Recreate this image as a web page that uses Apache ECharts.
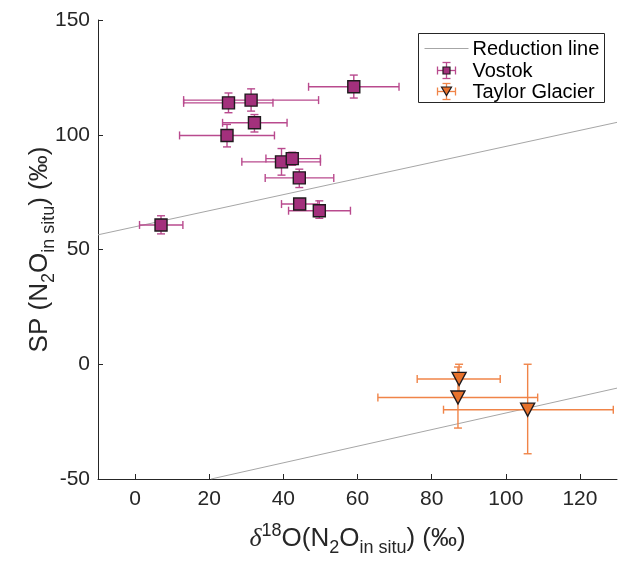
<!DOCTYPE html>
<html><head><meta charset="utf-8">
<script src="https://cdn.jsdelivr.net/npm/echarts@6/dist/echarts.min.js"></script>
<style>html,body{margin:0;padding:0;background:#fff}#c{width:619px;height:562px}</style>
</head><body><div id="c"></div>
<script>
// Vostok samples
const vostokX     = [59.0, 25.2, 31.3, 32.2, 24.8, 39.5, 42.4, 44.3, 44.4, 49.7, 7.0];
const vostokY     = [120.9, 113.9, 115.1, 105.2, 99.7, 88.2, 89.6, 81.2, 69.8, 66.9, 60.7];
const vostokXLow  = [46.8, 13.1, 13.1, 23.6, 12.0, 28.8, 35.3, 35.1, 39.5, 41.4, 1.2];
const vostokXHigh = [71.2, 37.2, 49.5, 41.0, 37.6, 50.0, 50.0, 53.6, 49.3, 58.1, 12.9];
const vostokYLow  = [116.0, 109.6, 110.3, 101.2, 94.7, 82.4, 86.7, 77.0, 67.5, 63.6, 56.8];
const vostokYHigh = [126.0, 118.2, 120.0, 108.8, 104.5, 94.0, 92.4, 85.0, 72.0, 71.2, 64.7];
// Taylor Glacier samples
const taylorX     = [87.4, 87.1, 105.9];
const taylorY     = [-6.4, -14.5, -19.8];
const taylorXLow  = [76.1, 65.5, 83.2];
const taylorXHigh = [98.5, 108.6, 129.0];
const taylorYLow  = [-12.8, -27.8, -39.0];
const taylorYHigh = [0.0, -1.2, 0.0];
// Reduction lines (end points)
const reductionUpperX = [-10, 130];
const reductionUpperY = [56.4, 105.4];
const reductionLowerX = [20.5, 130];
const reductionLowerY = [-50, -10.4];
// Axes
const xTicks = [0, 20, 40, 60, 80, 100, 120];
const yTicks = [-50, 0, 50, 100, 150];

const VOSTOK_FILL = '#a3307c', VOSTOK_ERR = '#b94a8e';
const TAYLOR_FILL = '#e8722c', TAYLOR_ERR = '#f08448';
const FONT = '"Liberation Sans", Arial, sans-serif';
const TXT = '#262626';

function rows(x, y, xl, xh, yl, yh) { return x.map((v, i) => [v, y[i], xl[i], xh[i], yl[i], yh[i]]); }
function pairs(x, y) { return x.map((v, i) => [v, y[i]]); }

function errRender(color) {
  return function (params, api) {
    const x = api.value(0), y = api.value(1);
    const a = api.coord([api.value(2), y]), b = api.coord([api.value(3), y]);
    const c = api.coord([x, api.value(4)]), d = api.coord([x, api.value(5)]);
    const cap = 4;
    const st = { stroke: color, lineWidth: 1.4 };
    const L = (x1, y1, x2, y2) => ({ type: 'line', shape: { x1, y1, x2, y2 }, style: st });
    return { type: 'group', children: [
      L(a[0], a[1], b[0], b[1]),
      L(a[0], a[1] - cap, a[0], a[1] + cap),
      L(b[0], b[1] - cap, b[0], b[1] + cap),
      L(c[0], c[1], d[0], d[1]),
      L(c[0] - cap, c[1], c[0] + cap, c[1]),
      L(d[0] - cap, d[1], d[0] + cap, d[1])
    ]};
  };
}

const richMain = { fontSize: 26, color: TXT, fontFamily: FONT };
const richSub = { fontSize: 18, color: TXT, fontFamily: FONT, padding: [18, 0, 0, 0] };
const richSup = { fontSize: 18, color: TXT, fontFamily: FONT, padding: [0, 0, 16, 0] };

const chart = echarts.init(document.getElementById('c'), null, { renderer: 'canvas' });
const lx = 418, ly = 33;
const leg = 20;
chart.setOption({
  animation: false,
  backgroundColor: '#fff',
  textStyle: { fontFamily: FONT },
  grid: { left: 98, right: 2, top: 20, bottom: 81, containLabel: false },
  xAxis: {
    type: 'value', min: -10, max: 130,
    name: '{i|δ}{sup|18}{m|O(N}{sub|2}{m|O}{sub|in situ}{m|) (‰)}',
    nameLocation: 'middle', nameGap: 42,
    nameTextStyle: { rich: {
      m: richMain,
      i: { fontSize: 26, color: TXT, fontFamily: '"Liberation Serif", serif', fontStyle: 'italic' },
      sup: richSup, sub: richSub
    }},
    axisLine: { onZero: false, lineStyle: { color: TXT, width: 1 } },
    axisTick: { inside: true, length: 5, customValues: xTicks, lineStyle: { color: TXT } },
    axisLabel: { customValues: xTicks, fontSize: 21, color: TXT, margin: 10, fontFamily: FONT },
    splitLine: { show: false }
  },
  yAxis: {
    type: 'value', min: -50, max: 150,
    name: '{m|SP (N}{sub|2}{m|O}{sub|in situ}{m|) (‰)}',
    nameLocation: 'middle', nameGap: 40, nameRotate: 90, nameMoveOverlap: false,
    nameTextStyle: { rich: { m: richMain, sub: richSub } },
    axisLine: { onZero: false, lineStyle: { color: TXT, width: 1 } },
    axisTick: { inside: true, length: 5, customValues: yTicks, lineStyle: { color: TXT } },
    axisLabel: { customValues: yTicks, fontSize: 21, color: TXT, margin: 8, fontFamily: FONT },
    splitLine: { show: false }
  },
  series: [
    { name: 'Reduction line', type: 'line', data: pairs(reductionUpperX, reductionUpperY),
      showSymbol: false, symbol: 'none', lineStyle: { color: '#a6a6a6', width: 1 }, z: 1, silent: true },
    { name: 'Reduction line 2', type: 'line', data: pairs(reductionLowerX, reductionLowerY),
      showSymbol: false, symbol: 'none', lineStyle: { color: '#a6a6a6', width: 1 }, z: 1, silent: true },
    { name: 'Vostok err', type: 'custom', renderItem: errRender(VOSTOK_ERR),
      data: rows(vostokX, vostokY, vostokXLow, vostokXHigh, vostokYLow, vostokYHigh),
      encode: { x: [0, 2, 3], y: [1, 4, 5] }, z: 2, silent: true },
    { name: 'Taylor err', type: 'custom', renderItem: errRender(TAYLOR_ERR),
      data: rows(taylorX, taylorY, taylorXLow, taylorXHigh, taylorYLow, taylorYHigh),
      encode: { x: [0, 2, 3], y: [1, 4, 5] }, z: 2, silent: true },
    { name: 'Vostok', type: 'scatter', data: pairs(vostokX, vostokY), symbol: 'rect', symbolSize: 12,
      itemStyle: { color: VOSTOK_FILL, borderColor: '#1f1a1d', borderWidth: 1.4, opacity: 1 }, z: 3 },
    { name: 'Taylor Glacier', type: 'scatter', data: pairs(taylorX, taylorY), symbol: 'triangle',
      symbolRotate: 180, symbolSize: [14, 13],
      itemStyle: { color: TAYLOR_FILL, borderColor: '#1f1a1d', borderWidth: 1.4, opacity: 1 }, z: 3 }
  ],
  graphic: [
    { type: 'group', left: lx, top: ly, z: 100, children: [
      { type: 'rect', shape: { x: 0, y: 0, width: 186, height: 69 }, style: { fill: '#fff', stroke: TXT, lineWidth: 1 } },
      { type: 'line', shape: { x1: 6, y1: 15, x2: 50, y2: 15 }, style: { stroke: '#a6a6a6', lineWidth: 1 } },
      { type: 'text', x: 54, y: 16, style: { text: 'Reduction line', fontSize: leg, fontFamily: FONT, fill: '#000', verticalAlign: 'middle' } },
      // Vostok icon
      { type: 'line', shape: { x1: 19, y1: 37, x2: 37, y2: 37 }, style: { stroke: VOSTOK_ERR, lineWidth: 1.3 } },
      { type: 'line', shape: { x1: 19, y1: 33, x2: 19, y2: 41 }, style: { stroke: VOSTOK_ERR, lineWidth: 1.3 } },
      { type: 'line', shape: { x1: 37, y1: 33, x2: 37, y2: 41 }, style: { stroke: VOSTOK_ERR, lineWidth: 1.3 } },
      { type: 'line', shape: { x1: 28, y1: 29, x2: 28, y2: 45 }, style: { stroke: VOSTOK_ERR, lineWidth: 1.3 } },
      { type: 'line', shape: { x1: 24, y1: 29, x2: 32, y2: 29 }, style: { stroke: VOSTOK_ERR, lineWidth: 1.3 } },
      { type: 'line', shape: { x1: 24, y1: 45, x2: 32, y2: 45 }, style: { stroke: VOSTOK_ERR, lineWidth: 1.3 } },
      { type: 'rect', shape: { x: 24.5, y: 33.5, width: 7, height: 7 }, style: { fill: VOSTOK_FILL, stroke: '#1f1a1d', lineWidth: 1.2 } },
      { type: 'text', x: 54, y: 38, style: { text: 'Vostok', fontSize: leg, fontFamily: FONT, fill: '#000', verticalAlign: 'middle' } },
      // Taylor icon
      { type: 'line', shape: { x1: 19, y1: 58, x2: 37, y2: 58 }, style: { stroke: TAYLOR_ERR, lineWidth: 1.3 } },
      { type: 'line', shape: { x1: 19, y1: 54, x2: 19, y2: 62 }, style: { stroke: TAYLOR_ERR, lineWidth: 1.3 } },
      { type: 'line', shape: { x1: 37, y1: 54, x2: 37, y2: 62 }, style: { stroke: TAYLOR_ERR, lineWidth: 1.3 } },
      { type: 'line', shape: { x1: 28, y1: 50, x2: 28, y2: 66 }, style: { stroke: TAYLOR_ERR, lineWidth: 1.3 } },
      { type: 'line', shape: { x1: 24, y1: 50, x2: 32, y2: 50 }, style: { stroke: TAYLOR_ERR, lineWidth: 1.3 } },
      { type: 'line', shape: { x1: 24, y1: 66, x2: 32, y2: 66 }, style: { stroke: TAYLOR_ERR, lineWidth: 1.3 } },
      { type: 'polygon', shape: { points: [[23, 53.5], [33, 53.5], [28, 62]] }, style: { fill: TAYLOR_FILL, stroke: '#1f1a1d', lineWidth: 1.2 } },
      { type: 'text', x: 54, y: 59, style: { text: 'Taylor Glacier', fontSize: leg, fontFamily: FONT, fill: '#000', verticalAlign: 'middle' } }
    ]}
  ]
});
</script></body></html>
